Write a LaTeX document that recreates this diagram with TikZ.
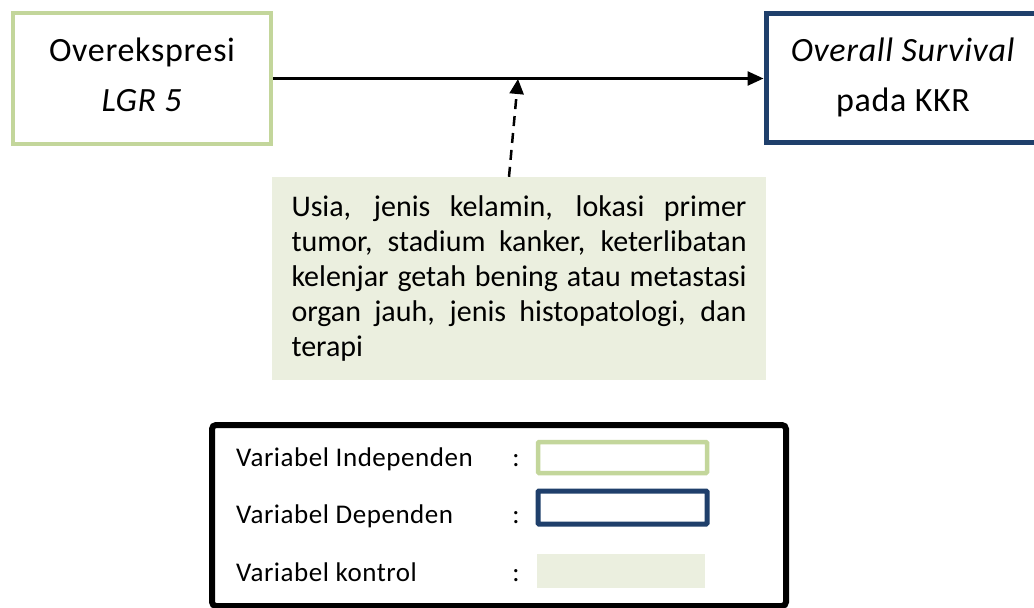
\documentclass[tikz,border=0pt]{standalone}
\usepackage{fontspec}
\setmainfont{Carlito}
\newfontfamily\spacedfont{Carlito}[LetterSpace=2]
\usetikzlibrary{arrows.meta,calc}
\definecolor{indgreen}{HTML}{C3D69B}
\definecolor{depblue}{HTML}{1F3F6B}
\definecolor{ctrlfill}{HTML}{EBEFDF}
\begin{document}
\begin{tikzpicture}[x=1pt,y=-1pt,
  bigfont/.style={font=\spacedfont\fontsize{34}{50}\selectfont},
  legfont/.style={font=\spacedfont\fontsize{27}{32}\selectfont},
  indbox/.style={draw=indgreen, line width=4.5pt, fill=white, inner sep=0pt},
  depbox/.style={draw=depblue, line width=5pt, fill=white, align=center, inner sep=0pt, bigfont},
  boxtext/.style={align=center, inner sep=0pt, bigfont},
  ctrlbox/.style={fill=ctrlfill, inner sep=0pt},
  mainarrow/.style={line width=2.5pt, -{Triangle[length=16pt,width=14pt]}},
  dasharrow/.style={line width=2.5pt, dash pattern=on 10pt off 7pt, -{Triangle[length=15pt,width=14pt]}},
  legbox/.style={draw=black, line width=6pt, rounded corners=4pt, inner sep=0pt},
  colon/.style={legfont, anchor=base},
  leglabel/.style={legfont, anchor=base west, inner sep=0pt}
]
\clip (0,0) rectangle (1034,608);
\fill[white] (0,0) rectangle (1034,608);

% main boxes
\node[indbox, minimum width=258pt, minimum height=131pt] (ind) at (142,78.5) {};
\node[boxtext] (indtxt) at (142,74.5) {Overekspresi\\\textit{LGR 5}};
\node[depbox, minimum width=274pt, minimum height=129pt] (dep) at (903,77.5) {\textit{Overall Survival}\\pada KKR};

% control variables box
\node[ctrlbox, minimum width=494pt, minimum height=203pt] (ctrl) at (519,278.5)
  {\parbox{455pt}{\fontsize{30}{35}\selectfont\hyphenpenalty=10000\emergencystretch=20pt
   Usia, jenis kelamin, lokasi primer\linebreak
   tumor, stadium kanker, keterlibatan\linebreak
   kelenjar getah bening atau metastasi\linebreak
   organ jauh, jenis histopatologi, dan\linebreak
   terapi}};

% connectors
\draw[mainarrow] (ind.east) -- (ind.east -| dep.west);
\coordinate (tip) at (518,79);
\draw[dasharrow] ($(ctrl.north)+(-10,0)$) -- (tip);

% legend
\node[legbox, minimum width=574pt, minimum height=181pt] (leg) at (499,515.5) {};
\node[leglabel] (l1) at (236,466) {Variabel Independen};
\node[leglabel] (l2) at (236,523) {Variabel Dependen};
\node[leglabel] (l3) at (236,581) {Variabel kontrol};
\node[colon] (c1) at (516,466) {:};
\node[colon] (c2) at (516,523) {:};
\node[colon] (c3) at (516,581) {:};
\node[draw=indgreen, line width=4.5pt, rounded corners=1pt, minimum width=169pt, minimum height=31pt, inner sep=0pt] (s1) at (622.5,457.5) {};
\node[draw=depblue, line width=5pt, rounded corners=1pt, minimum width=169pt, minimum height=33pt, inner sep=0pt] (s2) at (622.5,507.5) {};
\node[fill=ctrlfill, minimum width=168pt, minimum height=34pt, inner sep=0pt] (s3) at (621,571) {};
\end{tikzpicture}
\end{document}
